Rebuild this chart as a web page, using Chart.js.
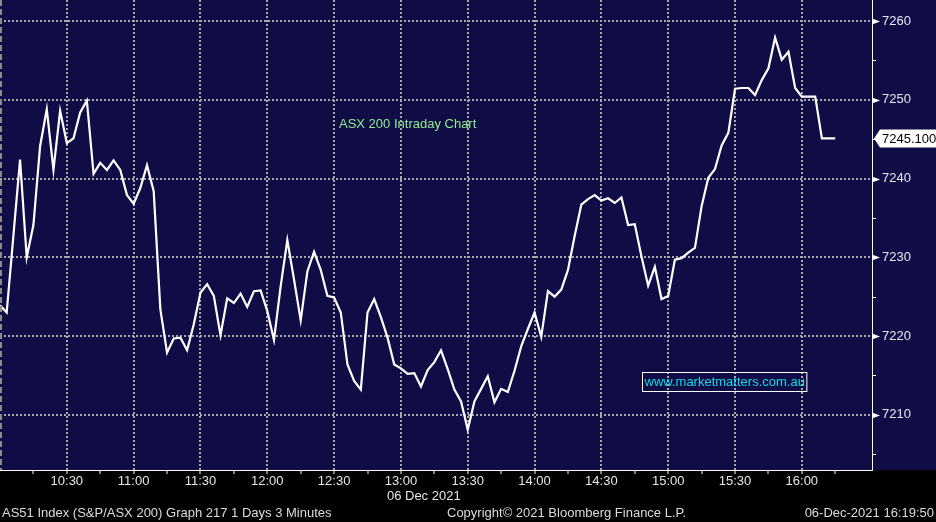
<!DOCTYPE html>
<html>
<head>
<meta charset="utf-8">
<title>ASX 200 Intraday Chart</title>
<script src="https://cdn.jsdelivr.net/npm/chart.js@4.4.1/dist/chart.umd.min.js"></script>
<style>
    html, body { margin: 0; padding: 0; background: #000; }
    canvas { display: block; }
</style>
</head>
<body>
<canvas id="asxChart" width="936" height="522"></canvas>
<script>
// Dati: ASX 200, barre da 3 minuti a partire dalle 10:00 (06 Dec 2021)
const barMinutes = 3;
const closeValues = [
    7223.9, 7223.0, 7232.7, 7242.4, 7230.0, 7234.1, 7244.1, 7248.8, 7241.1, 7248.6,
    7244.5, 7245.1, 7248.4, 7249.9, 7240.6, 7242.0, 7241.1, 7242.3, 7241.1, 7237.9,
    7236.8, 7238.8, 7241.7, 7238.4, 7223.4, 7217.9, 7219.7, 7219.8, 7218.2, 7221.5,
    7225.5, 7226.6, 7225.1, 7220.1, 7224.8, 7224.2, 7225.4, 7223.7, 7225.7, 7225.8,
    7223.2, 7219.5, 7226.3, 7232.2, 7227.2, 7222.0, 7228.2, 7230.7, 7228.4, 7225.1,
    7224.9, 7223.0, 7216.4, 7214.3, 7213.2, 7223.0, 7224.7, 7222.4, 7219.8, 7216.4,
    7215.9, 7215.2, 7215.3, 7213.6, 7215.7, 7216.7, 7218.2, 7215.8, 7213.2, 7211.7,
    7208.1, 7211.7, 7213.3, 7214.9, 7211.6, 7213.3, 7212.9, 7215.6, 7218.7, 7220.9,
    7223.0, 7219.9, 7225.7, 7225.0, 7225.9, 7228.4, 7232.7, 7236.7, 7237.4, 7237.9,
    7237.2, 7237.5, 7236.9, 7237.6, 7234.1, 7234.2, 7230.1, 7226.4, 7228.8, 7224.7,
    7225.1, 7229.7, 7229.9, 7230.6, 7231.2, 7236.5, 7240.1, 7241.2, 7244.2, 7245.8,
    7251.4, 7251.5, 7251.5, 7250.6, 7252.5, 7254.0, 7257.9, 7255.1, 7256.1, 7251.5,
    7250.4, 7250.4, 7250.4, 7245.1, 7245.1, 7245.1
];
const lastPrice = 7245.100;

// Etichette degli assi (minuti dalle 10:00)
const xTickMinutes = [15, 30, 45, 60, 75, 90, 105, 120, 135, 150, 165, 180, 195, 210,
    225, 240, 255, 270, 285, 300, 315, 330, 345, 360, 375];
const xTickLabels = {30: '10:30', 60: '11:00', 90: '11:30', 120: '12:00', 150: '12:30',
    180: '13:00', 210: '13:30', 240: '14:00', 270: '14:30', 300: '15:00', 330: '15:30', 360: '16:00'};
const yTickValues = [7205, 7210, 7215, 7220, 7225, 7230, 7235, 7240, 7245, 7250, 7255, 7260];
const yTickLabels = [7210, 7220, 7230, 7240, 7250, 7260];

const dateLabel = '06 Dec 2021';
const chartTitle = 'ASX 200 Intraday Chart';
const siteLabel = 'www.marketmatters.com.au';
const footerLeft = 'AS51 Index (S&P/ASX 200) Graph 217 1 Days 3 Minutes';
const footerMid = 'Copyright\u00A9 2021 Bloomberg Finance L.P.';
const footerRight = '06-Dec-2021 16:19:50';

const NAVY = 'rgb(15, 12, 70)';
const GRID = '#a8a8a8';
const FONT = '"Liberation Sans", Arial, sans-serif';

// Disegno di sfondo, tacche, annotazioni e piè di pagina
const bloombergDecor = {
    id: 'bloombergDecor',
    beforeDraw: function(chart) {
        const ctx = chart.ctx;
        const area = chart.chartArea;
        ctx.save();
        ctx.fillStyle = '#000';
        ctx.fillRect(0, 0, chart.width, chart.height);
        ctx.fillStyle = NAVY;
        ctx.fillRect(0, 0, chart.width, area.bottom);
        ctx.restore();
    },
    afterDraw: function(chart) {
        const ctx = chart.ctx;
        const area = chart.chartArea;
        const xs = chart.scales.x;
        const ys = chart.scales.y;
        ctx.save();

        // bordo sinistro tratteggiato
        ctx.strokeStyle = '#8c8c8c';
        ctx.lineWidth = 2;
        ctx.setLineDash([6, 3]);
        ctx.beginPath();
        ctx.moveTo(1, area.top);
        ctx.lineTo(1, area.bottom);
        ctx.stroke();
        ctx.setLineDash([]);

        // tacche asse Y: frecce sui valori principali, trattini sui secondari
        ctx.fillStyle = '#ffffff';
        ctx.strokeStyle = '#ffffff';
        ctx.lineWidth = 1;
        yTickValues.forEach(v => {
            const y = Math.round(ys.getPixelForValue(v)) + 0.5;
            if (yTickLabels.includes(v)) {
                ctx.beginPath();
                ctx.moveTo(area.right, y - 3);
                ctx.lineTo(area.right + 8, y);
                ctx.lineTo(area.right, y + 3);
                ctx.closePath();
                ctx.fill();
            } else {
                ctx.beginPath();
                ctx.moveTo(area.right, y);
                ctx.lineTo(area.right + 4, y);
                ctx.stroke();
            }
        });

        // titolo interno
        ctx.font = '13px ' + FONT;
        ctx.textBaseline = 'middle';
        ctx.textAlign = 'left';
        ctx.fillStyle = '#90ee90';
        ctx.fillText(chartTitle, xs.getPixelForValue(152.2), ys.getPixelForValue(7246.9));

        // riquadro sito web
        const bx = Math.round(xs.getPixelForValue(288.3)) + 0.5;
        const by = Math.round(ys.getPixelForValue(7215.4)) + 0.5;
        ctx.font = '13px ' + FONT;
        const tw = ctx.measureText(siteLabel).width;
        ctx.strokeStyle = '#ffffff';
        ctx.lineWidth = 1;
        ctx.strokeRect(bx, by, tw + 4, 19);
        ctx.fillStyle = '#12dbe6';
        ctx.fillText(siteLabel, bx + 2, by + 10);

        // etichetta ultimo prezzo
        const py = ys.getPixelForValue(lastPrice);
        ctx.fillStyle = '#ffffff';
        ctx.beginPath();
        ctx.moveTo(area.right + 2, py);
        ctx.lineTo(area.right + 8, py - 9);
        ctx.lineTo(chart.width, py - 9);
        ctx.lineTo(chart.width, py + 9);
        ctx.lineTo(area.right + 8, py + 9);
        ctx.closePath();
        ctx.fill();
        ctx.fillStyle = '#000000';
        ctx.font = '13px ' + FONT;
        ctx.fillText(lastPrice.toFixed(3), area.right + 10, py + 1);

        // data sotto l'asse X
        ctx.fillStyle = '#e6e6e6';
        ctx.fillText(dateLabel, xs.getPixelForValue(180) - 14, area.bottom + 26);

        // piè di pagina
        const fy = chart.height - 9;
        ctx.fillStyle = '#dcdcdc';
        ctx.fillText(footerLeft, 2, fy);
        ctx.fillText(footerMid, 447, fy);
        ctx.textAlign = 'right';
        ctx.fillText(footerRight, chart.width - 2, fy);

        ctx.restore();
    }
};

const asxChart = new Chart(document.getElementById('asxChart'), {
    type: 'line',
    data: {
        datasets: [{
            label: 'AS51 Index',
            data: closeValues.map((v, i) => ({x: i * barMinutes, y: v})),
            borderColor: '#ffffff',
            borderWidth: 2.2,
            pointRadius: 0,
            tension: 0,
            fill: false
        }]
    },
    options: {
        responsive: false,
        animation: false,
        devicePixelRatio: 1,
        layout: { padding: 0 },
        plugins: {
            legend: { display: false },
            tooltip: { enabled: false }
        },
        scales: {
            x: {
                type: 'linear',
                min: 0,
                max: 391.5,
                afterBuildTicks: scale => { scale.ticks = xTickMinutes.map(v => ({value: v})); },
                afterFit: scale => {
                    scale.height = 52;
                    scale.paddingLeft = 0;
                    scale.paddingRight = 0;
                },
                ticks: {
                    autoSkip: false,
                    maxRotation: 0,
                    padding: 0,
                    color: '#e6e6e6',
                    font: { family: FONT, size: 13 },
                    callback: value => xTickLabels[value] || ''
                },
                grid: {
                    color: ctx => (ctx.tick && xTickLabels[ctx.tick.value]) ? GRID : 'transparent',
                    lineWidth: 2,
                    tickLength: 4,
                    tickColor: '#ffffff',
                    tickWidth: 1,
                    tickBorderDash: []
                },
                border: { color: '#ffffff', width: 1, dash: [2, 2] }
            },
            y: {
                type: 'linear',
                position: 'right',
                min: 7203.0,
                max: 7262.67,
                afterBuildTicks: scale => { scale.ticks = yTickValues.map(v => ({value: v})); },
                afterFit: scale => {
                    scale.width = 64;
                    scale.paddingTop = 0;
                    scale.paddingBottom = 0;
                },
                ticks: {
                    padding: 4,
                    color: '#e8e8f4',
                    font: { family: FONT, size: 13 },
                    callback: value => yTickLabels.includes(value) ? String(value) : ''
                },
                grid: {
                    color: ctx => (ctx.tick && yTickLabels.includes(ctx.tick.value)) ? GRID : 'transparent',
                    lineWidth: 2,
                    tickLength: 6,
                    tickColor: 'transparent'
                },
                border: { color: '#ffffff', width: 1, dash: [2, 2] }
            }
        }
    },
    plugins: [bloombergDecor]
});
</script>
</body>
</html>
